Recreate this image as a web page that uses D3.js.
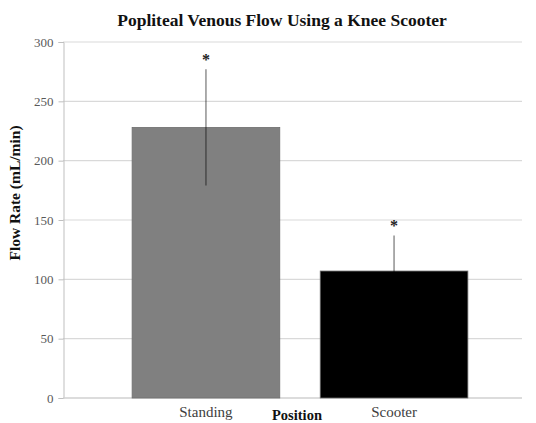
<!DOCTYPE html>
<html><head><meta charset="utf-8">
<script src="https://cdn.jsdelivr.net/npm/d3@7"></script>
<style>body{margin:0;background:#fff}svg{display:block}text{font-family:'Liberation Serif','Times New Roman',serif}</style>
</head><body>
<svg id="c" width="536" height="423"></svg>
<script>
const categories = ["Standing", "Scooter"];
const values = [228, 107];
const errors = [49, 30];
const yTicks = [0, 50, 100, 150, 200, 250, 300];
const barColors = ["#808080", "#000000"];

const svg = d3.select("#c");
const serif = "'Liberation Serif','Times New Roman',serif";
const y = d3.scaleLinear().domain([0, 300]).range([398, 42]);
const x = d3.scaleBand().domain(categories).range([112, 488]).paddingInner(0.215).paddingOuter(0.107);

// gridlines
svg.append("g").selectAll("line").data(yTicks.filter(d => d > 0)).join("line")
  .attr("x1", 63).attr("x2", 522).attr("y1", d => y(d)).attr("y2", d => y(d))
  .attr("stroke", "#d9d9d9").attr("stroke-width", 1.2);

// y axis
const yAxis = svg.append("g").attr("transform", "translate(63.5,0)")
  .call(d3.axisLeft(y).tickValues(yTicks).tickSize(5).tickPadding(5));
yAxis.attr("font-family", null);
yAxis.select(".domain").attr("stroke", "#bfbfbf");
yAxis.selectAll(".tick line").attr("stroke", "#bfbfbf");
yAxis.selectAll("text").style("font-family", serif).attr("font-size", 13).attr("fill", "#595959");

// x baseline
svg.append("line").attr("x1", 63).attr("x2", 522).attr("y1", y(0)).attr("y2", y(0))
  .attr("stroke", "#d0d0d0").attr("stroke-width", 1.5);

// bars
svg.append("g").selectAll("rect").data(categories).join("rect")
  .attr("x", d => x(d)).attr("width", x.bandwidth())
  .attr("y", (d, i) => y(values[i])).attr("height", (d, i) => y(0) - y(values[i]))
  .attr("fill", (d, i) => barColors[i]).attr("stroke", "#6e6e6e").attr("stroke-width", 0.8);

// error bars
svg.append("g").selectAll("line").data(categories).join("line")
  .attr("x1", d => x(d) + x.bandwidth() / 2).attr("x2", d => x(d) + x.bandwidth() / 2)
  .attr("y1", (d, i) => y(values[i] + errors[i])).attr("y2", (d, i) => y(values[i] - errors[i]))
  .attr("stroke", "#000").attr("stroke-opacity", 0.5).attr("stroke-width", 1.3);

// asterisks
svg.append("g").selectAll("text").data(categories).join("text")
  .attr("x", d => x(d) + x.bandwidth() / 2)
  .attr("y", (d, i) => y(values[i] + errors[i]) - 4)
  .attr("text-anchor", "middle").style("font-family", serif).attr("font-weight", "bold")
  .attr("font-size", 16).attr("fill", "#222").text("*");

// x tick labels
svg.append("g").selectAll("text").data(categories).join("text")
  .attr("x", d => x(d) + x.bandwidth() / 2).attr("y", 417)
  .attr("text-anchor", "middle").style("font-family", serif).attr("font-size", 15)
  .attr("fill", "#404040").text(d => d);

// title
svg.append("text").attr("x", 282).attr("y", 26).attr("text-anchor", "middle")
  .style("font-family", serif).attr("font-weight", "bold").attr("font-size", 17.5)
  .attr("fill", "#111").text("Popliteal Venous Flow Using a Knee Scooter");

// axis titles
svg.append("text").attr("x", 297).attr("y", 420).attr("text-anchor", "middle")
  .style("font-family", serif).attr("font-weight", "bold").attr("font-size", 14.5)
  .attr("fill", "#111").text("Position");
svg.append("text").attr("transform", "translate(20,193) rotate(-90)").attr("text-anchor", "middle")
  .style("font-family", serif).attr("font-weight", "bold").attr("font-size", 15.5)
  .attr("fill", "#111").text("Flow Rate (mL/min)");
</script>
</body></html>
